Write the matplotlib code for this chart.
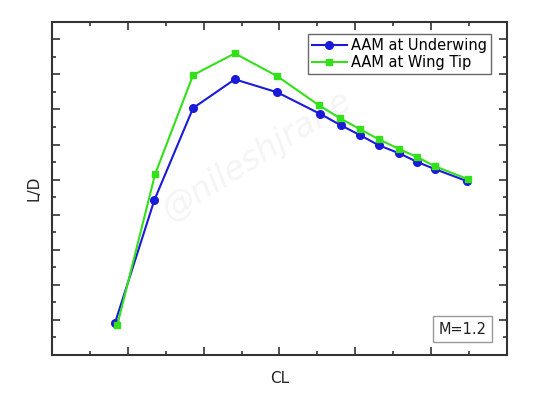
import matplotlib.pyplot as plt
from matplotlib.ticker import MultipleLocator, NullFormatter

# values (axis units are arbitrary, no tick labels)
cl_under = [0.83, 1.35, 1.86, 2.41, 2.97, 3.54, 3.81, 4.06, 4.31, 4.58, 4.82, 5.05, 5.47]
ld_under = [0.91, 4.42, 7.04, 7.86, 7.49, 6.87, 6.55, 6.27, 5.98, 5.75, 5.50, 5.30, 4.96]
cl_tip = [0.86, 1.36, 1.86, 2.41, 2.97, 3.52, 3.80, 4.06, 4.31, 4.58, 4.82, 5.05, 5.49]
ld_tip = [0.85, 5.16, 7.98, 8.60, 7.95, 7.12, 6.75, 6.44, 6.15, 5.87, 5.64, 5.38, 5.01]

fig = plt.figure(figsize=(5.54, 3.97), dpi=100)
ax = fig.add_axes([0.094, 0.106, 0.821, 0.839])

ax.plot(cl_under, ld_under, marker='o', color='#1a1ad8', markersize=5.5, linewidth=1.5,
        label='AAM at Underwing')
ax.plot(cl_tip, ld_tip, marker='s', color='#33e01a', markersize=4.8, linewidth=1.5,
        label='AAM at Wing Tip')

ax.set_xlim(0, 6)
ax.set_ylim(0, 9.5)
ax.xaxis.set_major_locator(MultipleLocator(1))
ax.xaxis.set_minor_locator(MultipleLocator(0.5))
ax.yaxis.set_major_locator(MultipleLocator(1))
ax.yaxis.set_minor_locator(MultipleLocator(0.5))
ax.xaxis.set_major_formatter(NullFormatter())
ax.yaxis.set_major_formatter(NullFormatter())
ax.tick_params(which='both', direction='in', top=True, right=True, color='#333333', width=1.2)
ax.tick_params(which='major', length=6)
ax.tick_params(which='minor', length=3)
for s in ax.spines.values():
    s.set_color('#333333')
    s.set_linewidth(1.5)

ax.set_xlabel('CL', fontsize=11, color='#222222', labelpad=8)
ax.set_ylabel('L/D', fontsize=11, color='#222222', labelpad=4)

leg = ax.legend(loc='upper right', fontsize=10.5, frameon=True, fancybox=False,
                borderpad=0.25, handletextpad=0.3, handlelength=2.4, labelspacing=0.15,
                bbox_to_anchor=(0.98, 0.985))
leg.get_frame().set_edgecolor('#444444')
leg.get_frame().set_linewidth(1.0)

ax.text(0.955, 0.055, 'M=1.2', transform=ax.transAxes, ha='right', va='bottom', fontsize=10.5,
        color='#222222', bbox=dict(boxstyle='square,pad=0.35', fc='white', ec='#999999', lw=1.0))

# faint watermark
ax.text(0.45, 0.6, '@nileshjrane', transform=ax.transAxes, ha='center', va='center',
        fontsize=24, rotation=32, color='#f5f5f5', zorder=0, style='italic')

fig.savefig('out.png', dpi=100)
